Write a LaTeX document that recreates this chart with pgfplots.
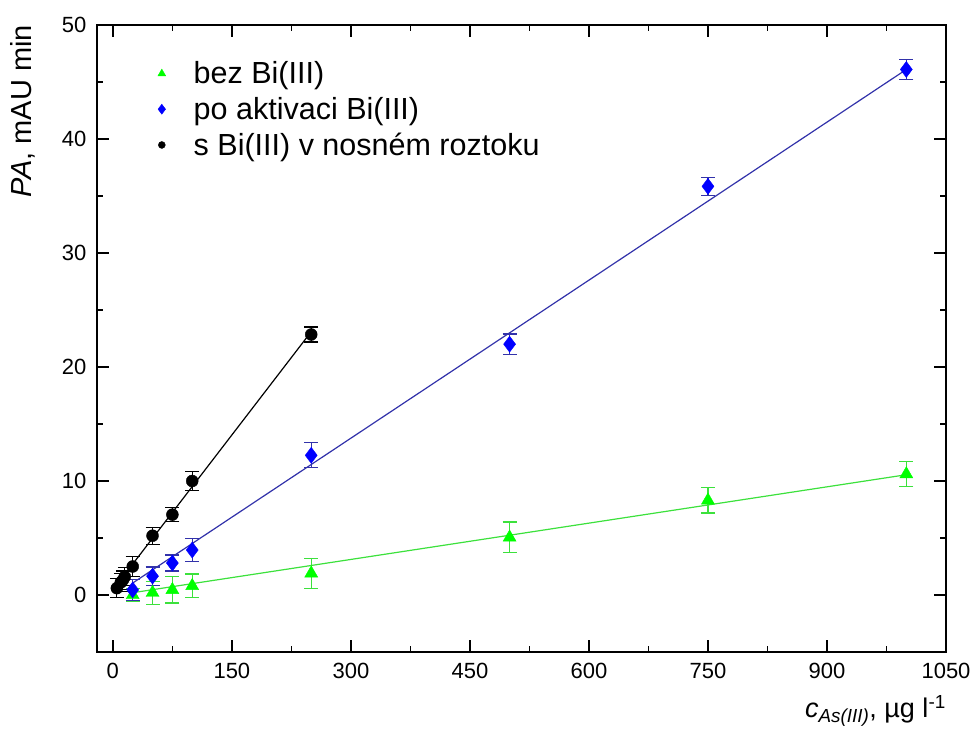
\documentclass[border=0pt]{standalone}
\usepackage{fontspec}
\setmainfont{Liberation Sans}
\usepackage{pgfplots}
\pgfplotsset{compat=1.18}
\definecolor{mgreen}{RGB}{0,255,0}
\definecolor{lgreen}{RGB}{60,225,60}
\definecolor{mblue}{RGB}{0,0,255}
\definecolor{lblue}{RGB}{50,50,170}
\begin{document}
\begin{tikzpicture}
\useasboundingbox (-97pt,-83pt) rectangle (877pt,652pt);
\begin{axis}[
  at={(0,0)}, anchor=south west,
  scale only axis, width=849pt, height=627pt,
  xmin=-20, xmax=1050, ymin=-5, ymax=50,
  xtick={0,150,...,1050}, ytick={0,10,...,50},
  minor x tick num=1, minor y tick num=1,
  tick align=inside,
  major tick length=12pt, minor tick length=6pt,
  axis line style={line width=1.6pt},
  every tick/.style={line width=1.6pt, black},
  tick label style={font=\fontsize{22}{26}\selectfont},
  /pgf/number format/assume math mode=true,
  /pgf/number format/1000 sep={},
  xticklabel style={yshift=-8pt},
  yticklabel style={xshift=-7pt},
  xlabel={\textit{c}\textsubscript{\textit{As(III)}}, µg l\textsuperscript{-1}},
  xlabel style={at={(axis description cs:1,-0.105)}, anchor=base east, font=\fontsize{27}{32}\selectfont, inner sep=0pt},
  ylabel={\textit{PA}, mAU min},
  ylabel style={at={(axis description cs:-0.0766,1)}, anchor=base east, font=\fontsize{29}{34}\selectfont, inner sep=0pt},
  legend style={at={(0.068,0.948)}, anchor=north west, draw=none, fill=none, font=\fontsize{30.5}{36}\selectfont, row sep=8pt, column sep=26pt},
  legend cell align=left,
]
% fit lines
\addplot[lgreen, line width=1.2pt, forget plot] coordinates {(25,0.2) (1000,10.55)};
\addplot[lblue, line width=1.2pt, forget plot] coordinates {(25,1.05) (1000,46.1)};
\addplot[black, line width=1.2pt, forget plot] coordinates {(5,0.9) (250,23.1)};
% green
\addplot[only marks, mark=triangle*, mark size=7.5pt, color=mgreen,
  mark options={fill=mgreen, draw=mgreen},
  legend image post style={mark size=4.5pt},
  error bars/.cd, y dir=both, y explicit,
  error bar style={lgreen, line width=1.2pt},
  error mark options={rotate=90, mark size=7pt, line width=1.2pt, lgreen}]
  table[x=x, y=y, y error=e] {
x y e
25 0.0 0.6
50 0.2 1.0
75 0.45 1.15
100 0.8 1.05
250 1.9 1.3
500 5.05 1.35
750 8.3 1.1
1000 10.6 1.1
};
\addlegendentry{bez Bi(III)}
% blue
\addplot[only marks, mark=diamond*, mark size=8pt, color=mblue,
  mark options={fill=mblue, draw=mblue},
  legend image post style={mark size=5pt},
  error bars/.cd, y dir=both, y explicit,
  error bar style={lblue, line width=1.2pt},
  error mark options={rotate=90, mark size=7pt, line width=1.2pt, lblue}]
  table[x=x, y=y, y error=e] {
x y e
25 0.45 0.9
50 1.65 0.8
75 2.8 0.7
100 3.95 1.0
250 12.25 1.1
500 22.0 0.9
750 35.85 0.8
1000 46.1 0.9
};
\addlegendentry{po aktivaci Bi(III)}
% black
\addplot[only marks, mark=*, mark size=6pt, color=black,
  mark options={fill=black, draw=black},
  legend image post style={mark size=3.5pt},
  error bars/.cd, y dir=both, y explicit,
  error bar style={black, line width=1.2pt},
  error mark options={rotate=90, mark size=7pt, line width=1.2pt, black}]
  table[x=x, y=y, y error=e] {
x y e
5 0.6 0.85
10 1.1 0.8
12.5 1.3 0.8
15 1.6 0.8
25 2.5 0.9
50 5.2 0.75
75 7.05 0.6
100 10.0 0.8
250 22.85 0.65
};
\addlegendentry{s Bi(III) v nosném roztoku}
\end{axis}
\end{tikzpicture}
\end{document}
